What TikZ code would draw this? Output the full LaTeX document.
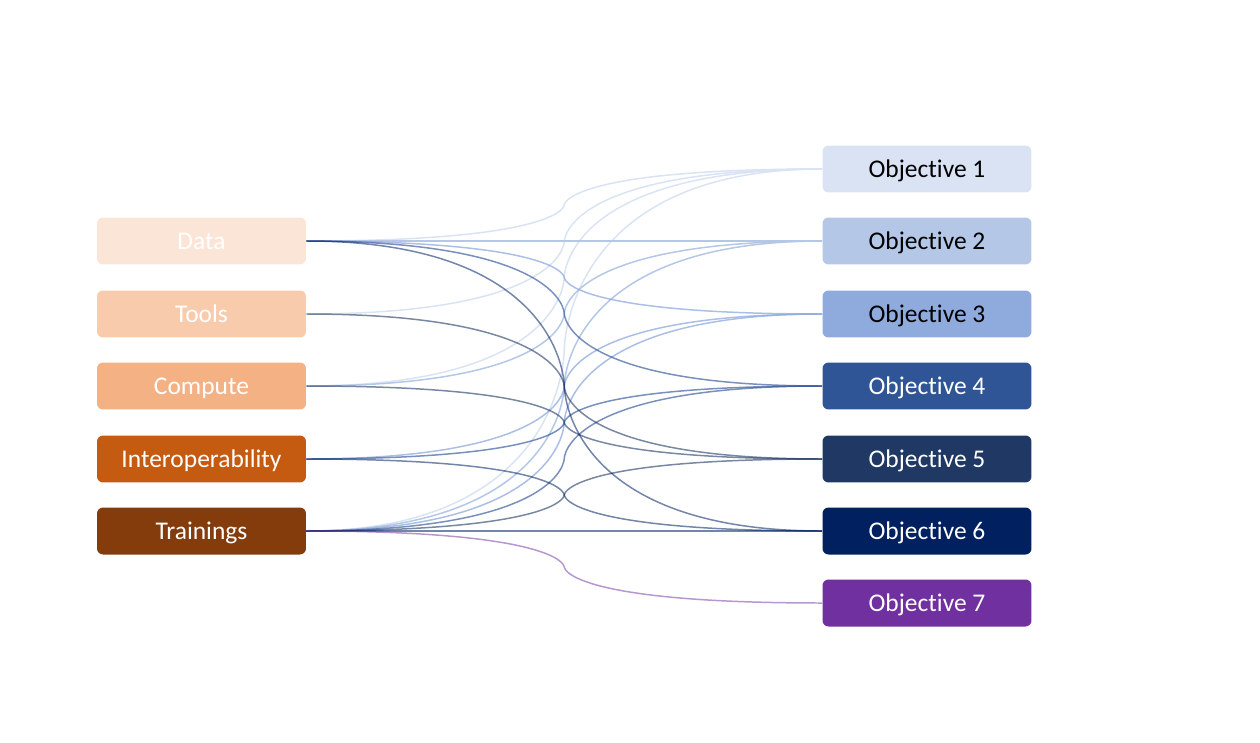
\documentclass[tikz,border=0pt]{standalone}
\usepackage{fontspec}
\setmainfont{Carlito}[Ligatures=NoCommon]
\usepackage{tikz}
\usetikzlibrary{calc}

\definecolor{dataC}{HTML}{FBE5D6}
\definecolor{toolsC}{HTML}{F8CBAD}
\definecolor{computeC}{HTML}{F4B183}
\definecolor{interC}{HTML}{C55A11}
\definecolor{trainC}{HTML}{843C0C}
\definecolor{objA}{HTML}{DAE3F3}
\definecolor{objB}{HTML}{B4C7E7}
\definecolor{objC}{HTML}{8FAADC}
\definecolor{objD}{HTML}{2F5597}
\definecolor{objE}{HTML}{203864}
\definecolor{objF}{HTML}{002060}
\definecolor{objG}{HTML}{7030A0}

% link from a resource (left) to an objective (right), bending at the middle
\newcommand{\objlink}[3]{%
  \path (#1.east) -- (#2.west) coordinate[midway] (m);
  \draw[link, #3] (#1.east) .. controls (#1.east -| m) and (m) .. (m)
    .. controls (m) and (m |- #2.west) .. (#2.west);
}

\begin{document}
\begin{tikzpicture}[x=0.02cm, y=-0.02cm,
    box/.style={rounded corners=0.12cm, minimum width=4.18cm, minimum height=0.94cm,
      inner sep=0pt, text height=10.6pt, text depth=1pt,
      font=\fontsize{14.5}{17}\selectfont},
    link/.style={line width=0.85pt}]
  \useasboundingbox (0,0) rectangle (1260,743);

  % resources
  \node[box, fill=dataC, text=white] (data) at (201.5,241) {Data};
  \node[box, fill=toolsC, text=white] (tools) at (201.5,314) {Tools};
  \node[box, fill=computeC, text=white] (compute) at (201.5,386) {Compute};
  \node[box, fill=interC, text=white] (inter) at (201.5,459) {Interoperability};
  \node[box, fill=trainC, text=white] (train) at (201.5,531) {Trainings};

  % objectives
  \node[box, fill=objA, text=black] (o1) at (927,169) {Objective 1};
  \node[box, fill=objB, text=black] (o2) at (927,241) {Objective 2};
  \node[box, fill=objC, text=black] (o3) at (927,314) {Objective 3};
  \node[box, fill=objD, text=white] (o4) at (927,386) {Objective 4};
  \node[box, fill=objE, text=white] (o5) at (927,459) {Objective 5};
  \node[box, fill=objF, text=white] (o6) at (927,531) {Objective 6};
  \node[box, fill=objG, text=white] (o7) at (927,603) {Objective 7};

  % links, light ones first
  \foreach \s in {data, tools, compute, train} {\objlink{\s}{o1}{objA}}
  \foreach \s in {data, compute, train} {\objlink{\s}{o2}{objB}}
  \foreach \s in {data, inter, train} {\objlink{\s}{o3}{objC, opacity=0.75}}
  \foreach \s in {data, inter, train} {\objlink{\s}{o4}{objD, opacity=0.65}}
  \foreach \s in {tools, compute, train} {\objlink{\s}{o5}{objE, opacity=0.6}}
  \foreach \s in {data, inter, train} {\objlink{\s}{o6}{objF, opacity=0.55}}
  \objlink{train}{o7}{objG, opacity=0.5}
\end{tikzpicture}
\end{document}
